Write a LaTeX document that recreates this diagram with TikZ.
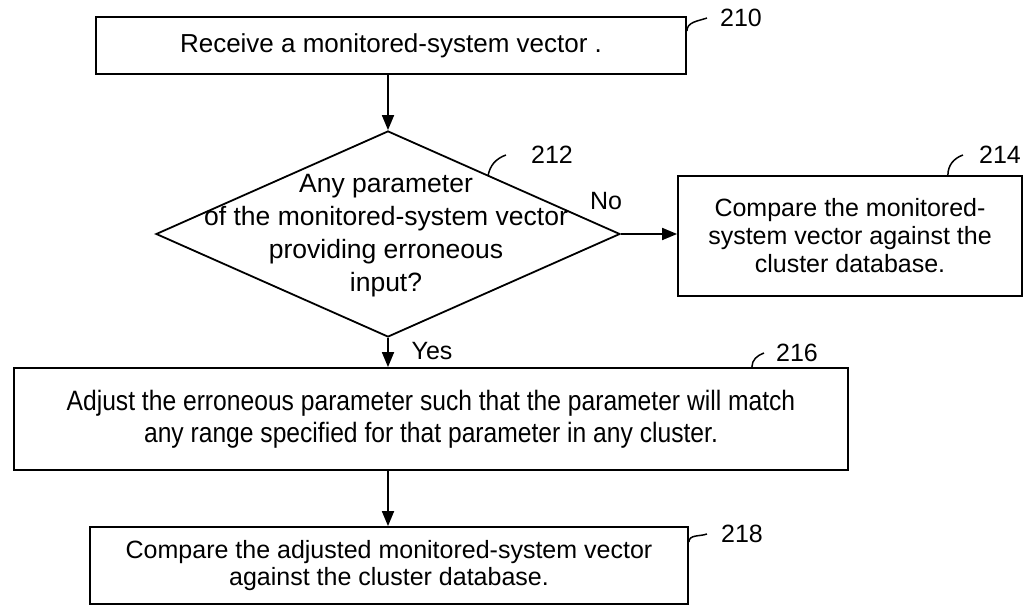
\documentclass[tikz,border=0pt]{standalone}
\usepackage{fontspec}
\setmainfont{Liberation Sans}
\newfontfamily\narrowfont[FakeStretch=0.88]{Liberation Sans}
\usetikzlibrary{shapes.geometric,arrows.meta}

\begin{document}
\begin{tikzpicture}[x=1pt,y=-1pt,
    every node/.style={font=\fontsize{25}{30}\selectfont},
    block/.style={draw,line width=1.8pt,align=center,inner sep=0pt},
    decision/.style={draw,diamond,line width=1.8pt,inner sep=0pt},
    flow/.style={line width=1.8pt,-{Triangle[length=15pt,width=12pt]}},
    hook/.style={line width=1.5pt},
    num/.style={inner sep=0pt,font=\fontsize{25}{30}\selectfont}]
  \useasboundingbox (0,0) rectangle (1026,609);
  % x of the main vertical flow line
  \def\ax{388}
  % steps of the flow
  \node[block,minimum width=590pt,minimum height=57pt,font=\fontsize{26}{30}\selectfont] (recv) at (391,45.5) {Receive a monitored-system vector .};
  \node[decision,minimum width=464pt,minimum height=206pt] (check) at (\ax,234) {};
  \node[align=center,inner sep=0pt,font=\fontsize{26.5}{33}\selectfont] (checktxt) at (386,236)
    {Any parameter\\of the monitored-system vector\\providing erroneous\\input?};
  \node[block,minimum width=344pt,minimum height=120pt,font=\fontsize{25}{28}\selectfont] (cmp) at (850,236)
    {Compare the monitored-\\system vector against the\\cluster database.};
  \node[block,minimum width=834pt,minimum height=102pt,font=\narrowfont\fontsize{28}{32}\selectfont] (adj) at (431,419)
    {Adjust the erroneous parameter such that the parameter will match\\any range specified for that parameter in any cluster.};
  \node[block,minimum width=598pt,minimum height=77pt,font=\fontsize{25}{27}\selectfont] (cmpadj) at (389,565.5)
    {Compare the adjusted monitored-system vector\\against the cluster database.};
  % connectors
  \draw[flow] (recv.south -| check.north) -- (check.north);
  \draw[flow] (check.east) -- (check.east -| cmp.west);
  \draw[flow] (check.south) -- (check.south |- adj.north);
  \draw[flow] (adj.south -| check.south) -- (cmpadj.north -| check.south);
  \node[inner sep=0pt] (no) at (606,201) {No};
  \node[inner sep=0pt] (yes) at (432,351) {Yes};
  % reference numbers with their hooks
  \node[num] (n210) at (741,18) {210};
  \node[num] (n212) at (552,155) {212};
  \node[num] (n214) at (1000,155) {214};
  \node[num] (n216) at (797,353) {216};
  \node[num] (n218) at (742,534) {218};
  \draw[hook] ([yshift=-15pt]recv.north east) to[out=90,in=200] ([xshift=-13pt]n210.west);
  \draw[hook] (488,176) to[out=80,in=200] ([xshift=-25pt]n212.west);
  \draw[hook] ([xshift=-75pt]cmp.north east) to[out=90,in=200] ([xshift=-16pt]n214.west);
  \draw[hook] ([xshift=-97pt]adj.north east) to[out=90,in=200] ([xshift=-12pt]n216.west);
  \draw[hook] ([yshift=-16pt]cmpadj.north east) to[out=90,in=200] ([xshift=-14pt]n218.west);
\end{tikzpicture}
\end{document}
